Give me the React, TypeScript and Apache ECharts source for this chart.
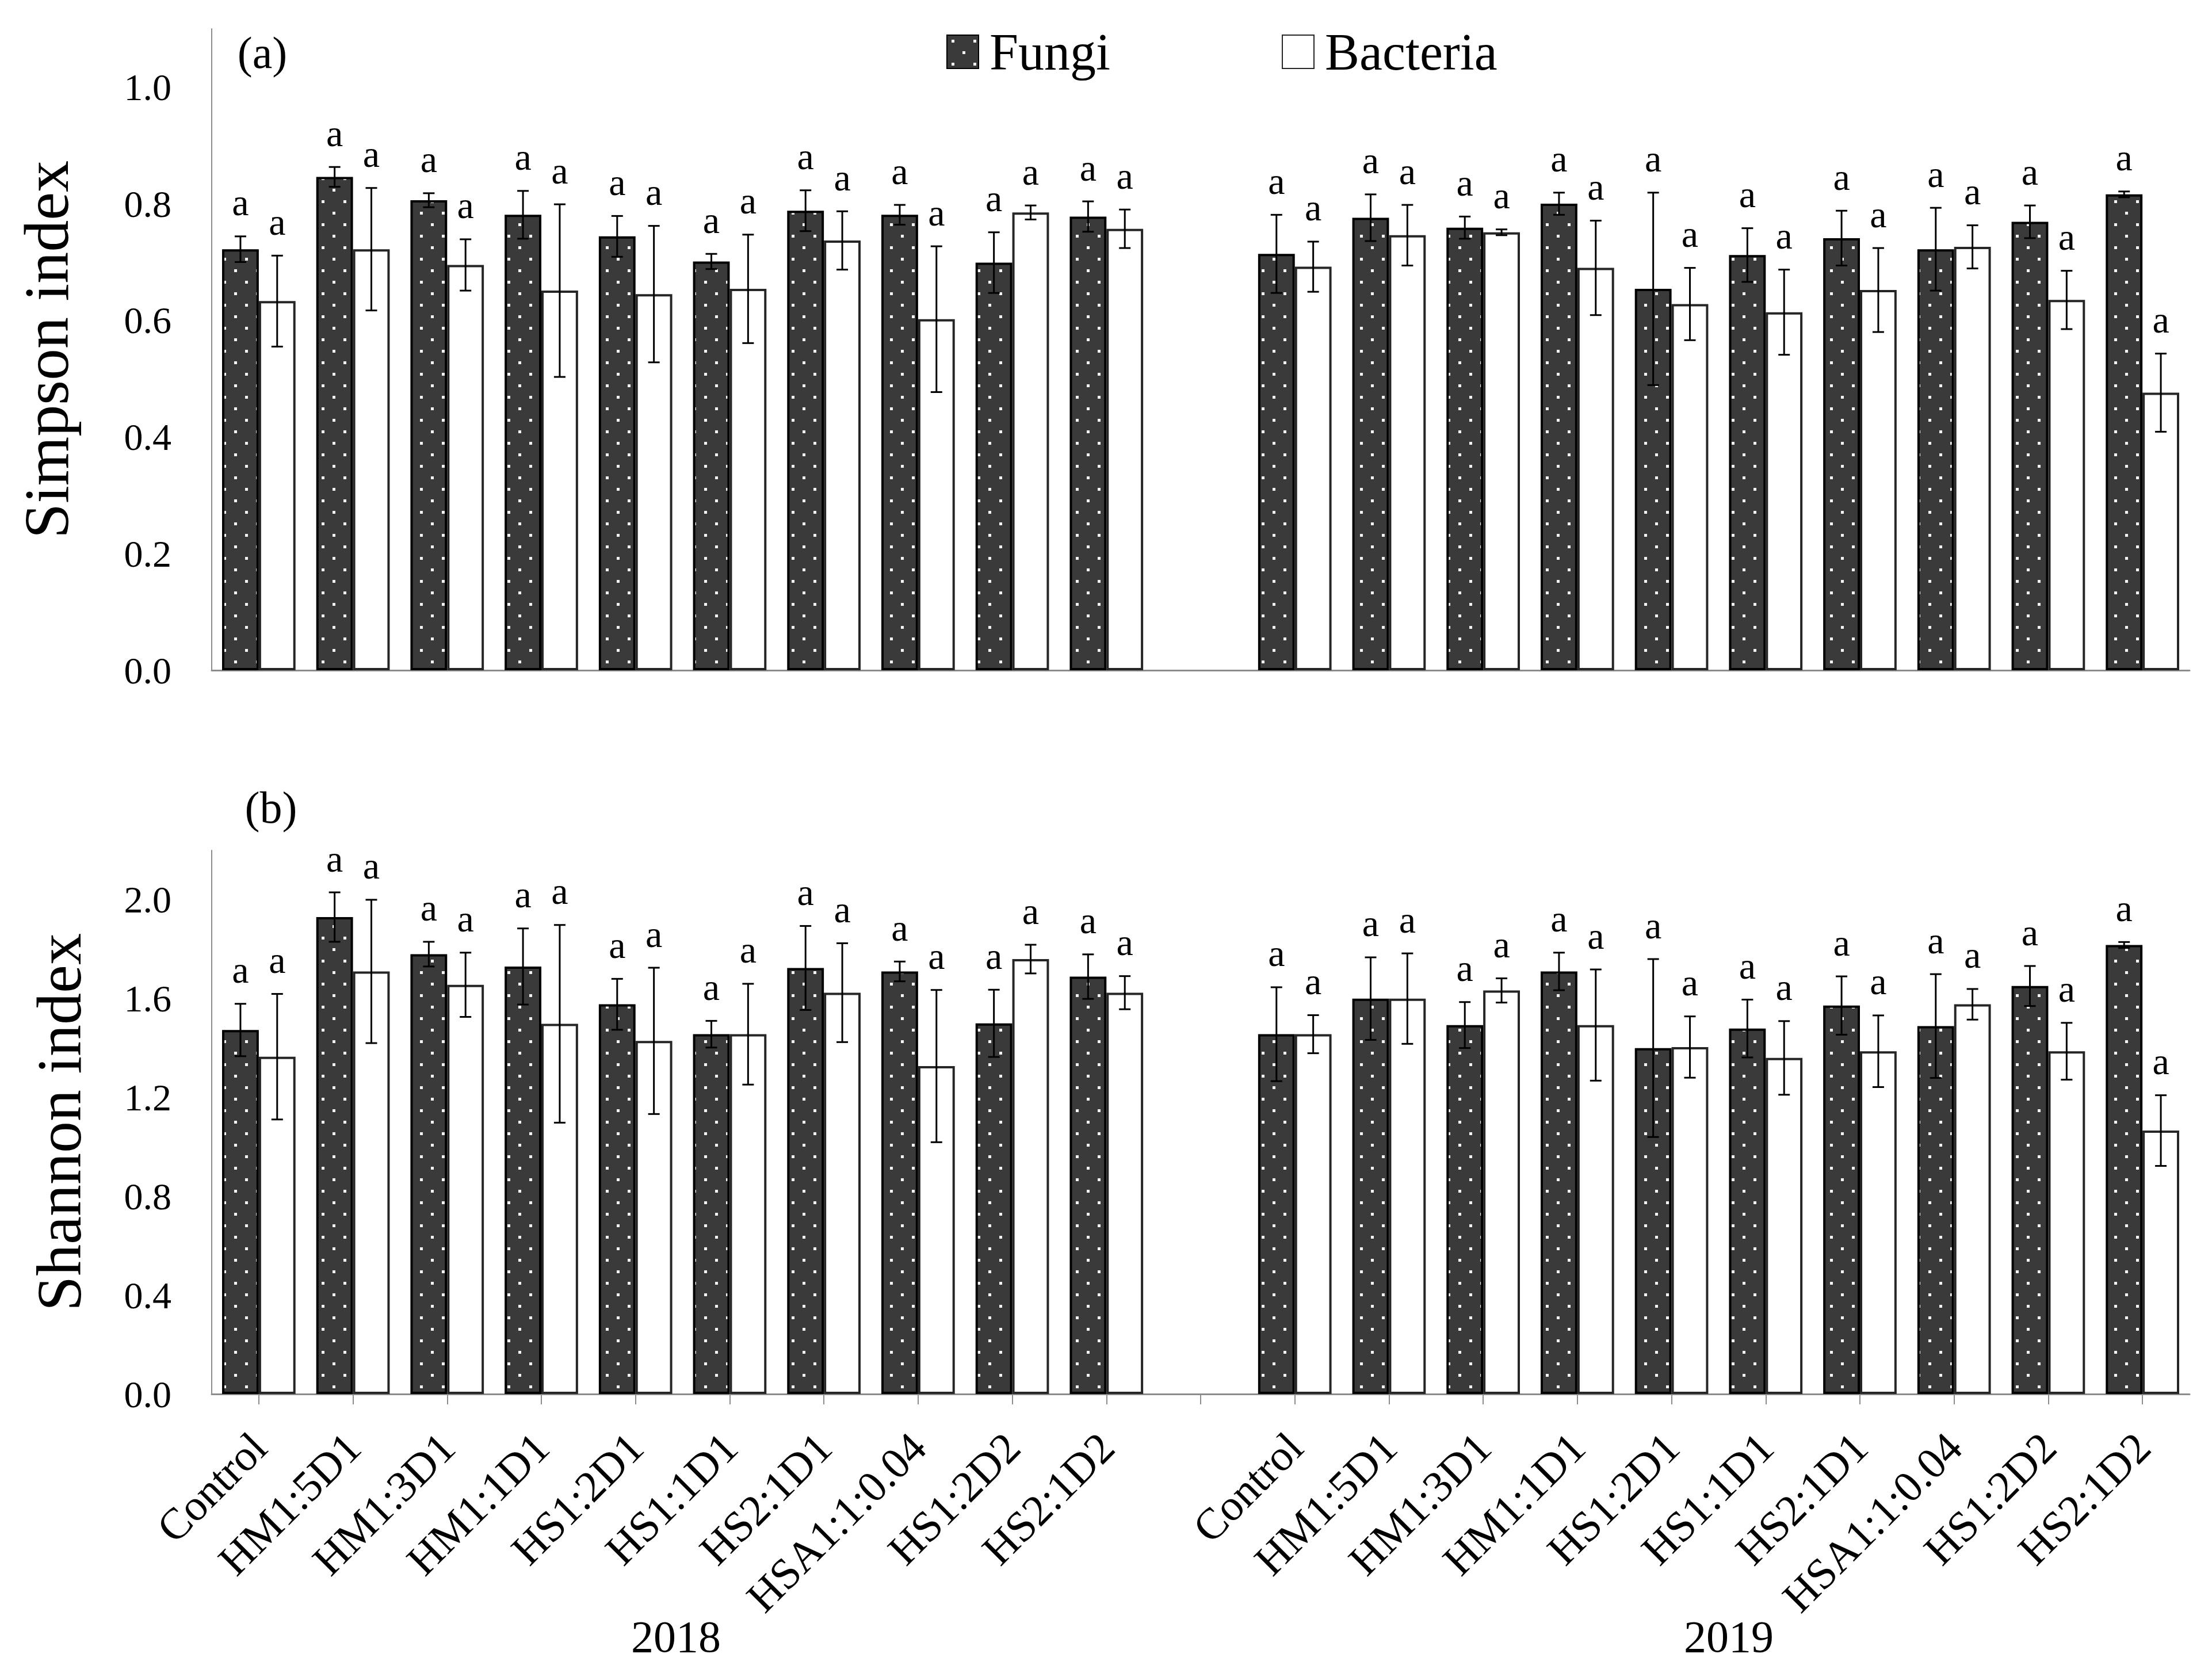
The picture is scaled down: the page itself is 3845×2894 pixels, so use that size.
import React, { useEffect, useRef } from "react";
import * as echarts from "echarts";

const FONT = '"Liberation Serif", "Times New Roman", serif';

const categories2018 = ["Control", "HM1:5D1", "HM1:3D1", "HM1:1D1", "HS1:2D1", "HS1:1D1", "HS2:1D1", "HSA1:1:0.04", "HS1:2D2", "HS2:1D2"];
const categories2019 = ["Control", "HM1:5D1", "HM1:3D1", "HM1:1D1", "HS1:2D1", "HS1:1D1", "HS2:1D1", "HSA1:1:0.04", "HS1:2D2", "HS2:1D2"];
const yearLabels = ["2018", "2019"];
const legendNames = ["Fungi", "Bacteria"];
const yTitles = ["Simpson index", "Shannon index"];
const panelLabels = ["(a)", "(b)"];

// (a) Simpson index
const simpsonFungi2018 = [0.722, 0.846, 0.806, 0.781, 0.744, 0.701, 0.788, 0.781, 0.699, 0.778];
const simpsonFungiErr2018 = [0.022, 0.017, 0.012, 0.041, 0.035, 0.013, 0.035, 0.017, 0.052, 0.026];
const simpsonBacteria2018 = [0.633, 0.722, 0.695, 0.651, 0.645, 0.654, 0.737, 0.602, 0.785, 0.757];
const simpsonBacteriaErr2018 = [0.078, 0.105, 0.044, 0.148, 0.117, 0.093, 0.05, 0.125, 0.012, 0.033];
const simpsonFungi2019 = [0.714, 0.776, 0.759, 0.8, 0.654, 0.712, 0.741, 0.722, 0.769, 0.816];
const simpsonFungiErr2019 = [0.067, 0.04, 0.019, 0.019, 0.165, 0.046, 0.047, 0.071, 0.028, 0.005];
const simpsonBacteria2019 = [0.692, 0.746, 0.751, 0.69, 0.628, 0.614, 0.652, 0.726, 0.635, 0.476];
const simpsonBacteriaErr2019 = [0.043, 0.052, 0.005, 0.081, 0.062, 0.073, 0.072, 0.037, 0.05, 0.067];

// (b) Shannon index
const shannonFungi2018 = [1.473, 1.93, 1.78, 1.73, 1.577, 1.456, 1.724, 1.71, 1.5, 1.689];
const shannonFungiErr2018 = [0.106, 0.1, 0.05, 0.154, 0.103, 0.054, 0.17, 0.04, 0.136, 0.09];
const shannonBacteria2018 = [1.365, 1.71, 1.656, 1.498, 1.429, 1.456, 1.624, 1.327, 1.76, 1.624];
const shannonBacteriaErr2018 = [0.254, 0.29, 0.13, 0.4, 0.296, 0.204, 0.2, 0.308, 0.058, 0.067];
const shannonFungi2019 = [1.456, 1.6, 1.493, 1.71, 1.4, 1.479, 1.572, 1.489, 1.651, 1.817];
const shannonFungiErr2019 = [0.19, 0.167, 0.093, 0.076, 0.36, 0.117, 0.118, 0.21, 0.081, 0.012];
const shannonBacteria2019 = [1.456, 1.6, 1.633, 1.493, 1.404, 1.36, 1.387, 1.577, 1.387, 1.066];
const shannonBacteriaErr2019 = [0.077, 0.183, 0.049, 0.225, 0.124, 0.149, 0.145, 0.062, 0.115, 0.143];

// significance letters
const simpsonFungiLetters2018 = ["a", "a", "a", "a", "a", "a", "a", "a", "a", "a"];
const simpsonBacteriaLetters2018 = ["a", "a", "a", "a", "a", "a", "a", "a", "a", "a"];
const simpsonFungiLetters2019 = ["a", "a", "a", "a", "a", "a", "a", "a", "a", "a"];
const simpsonBacteriaLetters2019 = ["a", "a", "a", "a", "a", "a", "a", "a", "a", "a"];
const shannonFungiLetters2018 = ["a", "a", "a", "a", "a", "a", "a", "a", "a", "a"];
const shannonBacteriaLetters2018 = ["a", "a", "a", "a", "a", "a", "a", "a", "a", "a"];
const shannonFungiLetters2019 = ["a", "a", "a", "a", "a", "a", "a", "a", "a", "a"];
const shannonBacteriaLetters2019 = ["a", "a", "a", "a", "a", "a", "a", "a", "a", "a"];

const join = (a: any[], b: any[]) => [...a, null, ...b];
const axisCategories = [...categories2018, "", ...categories2019];

const CAT_GAP = 0.22;

function makePattern() {
  const c = document.createElement("canvas");
  c.width = 38;
  c.height = 40;
  const ctx = c.getContext("2d")!;
  ctx.fillStyle = "#3a3a3a";
  ctx.fillRect(0, 0, 38, 40);
  ctx.fillStyle = "#f4f4f4";
  ctx.fillRect(8, 8, 5, 5);
  ctx.fillRect(27, 28, 5, 5);
  return { image: c, repeat: "repeat", imageWidth: 38, imageHeight: 40 } as any;
}

function errorSeries(name: string, values: any[], errs: any[], letters: any[], side: number, axisIdx: number) {
  const data: any[] = [];
  const lbl: string[] = [];
  values.forEach((v, i) => {
    if (v == null) return;
    data.push([i, v, errs[i]]);
    lbl.push(letters[i]);
  });
  return {
    type: "custom",
    name,
    xAxisIndex: axisIdx,
    yAxisIndex: axisIdx,
    z: 10,
    silent: true,
    encode: { x: 0, y: 1 },
    data,
    renderItem: (params: any, api: any) => {
      const idx = api.value(0);
      const val = api.value(1);
      const err = api.value(2);
      const center = api.coord([idx, val]);
      const band = api.size([1, 0])[0];
      const barW = (band * (1 - CAT_GAP)) / 2;
      const x = center[0] + (side * barW) / 2;
      const top = api.coord([idx, val + err])[1];
      const bot = api.coord([idx, val - err])[1];
      const cap = 10;
      const ls = { stroke: "#000", lineWidth: 3 };
      return {
        type: "group",
        children: [
          { type: "line", shape: { x1: x, y1: top, x2: x, y2: bot }, style: ls },
          { type: "line", shape: { x1: x - cap, y1: top, x2: x + cap, y2: top }, style: ls },
          { type: "line", shape: { x1: x - cap, y1: bot, x2: x + cap, y2: bot }, style: ls },
          {
            type: "text",
            style: {
              text: lbl[params.dataIndex],
              x,
              y: top - 26,
              align: "center",
              verticalAlign: "bottom",
              fontSize: 66,
              fontFamily: FONT,
              fill: "#000",
            },
          },
        ],
      };
    },
  };
}

export default function App() {
  const ref = useRef<HTMLDivElement>(null);
  useEffect(() => {
    document.body.style.margin = "0";
    if (!ref.current) return;
    const chart = echarts.init(ref.current, undefined, { renderer: "svg" });
    const pattern = makePattern();
    const fungiStyle = { color: pattern, borderColor: "#000", borderWidth: 4 };
    const bacteriaStyle = { color: "#ffffff", borderColor: "#262626", borderWidth: 4 };
    const axisGray = "#8c8c8c";

    const yAxisBase = (gridIndex: number, max: number, interval: number, name: string, nameGap: number) => ({
      type: "value",
      gridIndex,
      min: 0,
      max,
      interval,
      name,
      nameLocation: "middle",
      nameGap,
      nameTextStyle: { fontSize: 110, fontFamily: FONT, color: "#000" },
      axisLine: { show: true, lineStyle: { color: axisGray, width: 2 } },
      axisTick: { show: false },
      splitLine: { show: false },
      axisLabel: {
        formatter: (v: number) => v.toFixed(1),
        fontSize: 66,
        fontFamily: FONT,
        color: "#000",
        margin: 70,
        showMaxLabel: false,
      },
    });

    const legendBase = (name: string, left: number) => ({
      data: [name],
      left,
      top: 40,
      icon: "rect",
      itemWidth: 55,
      itemHeight: 58,
      textStyle: { fontSize: 90, fontFamily: FONT, color: "#000", padding: [0, 0, 0, 14] },
    });

    const option: any = {
      animation: false,
      backgroundColor: "#ffffff",
      legend: [legendBase(legendNames[0], 1640), legendBase(legendNames[1], 2223)],
      grid: [
        { left: 368, right: 39, top: 50, height: 1115 },
        { left: 368, right: 39, top: 1478, height: 945 },
      ],
      xAxis: [
        {
          type: "category",
          gridIndex: 0,
          data: axisCategories,
          axisLine: { lineStyle: { color: axisGray, width: 3 } },
          axisTick: { show: false },
          axisLabel: { show: false },
        },
        {
          type: "category",
          gridIndex: 1,
          data: axisCategories,
          axisLine: { lineStyle: { color: axisGray, width: 3 } },
          axisTick: { show: true, alignWithLabel: true, interval: 0, length: 18, lineStyle: { color: axisGray, width: 2 } },
          axisLabel: { interval: 0, rotate: 45, fontSize: 76, fontFamily: FONT, color: "#000", margin: 80 },
        },
      ],
      yAxis: [
        yAxisBase(0, 1.1, 0.2, yTitles[0], 232),
        yAxisBase(1, 2.2, 0.4, yTitles[1], 210),
      ],
      graphic: [
        { type: "text", x: 456, y: 91, style: { text: panelLabels[0], fontSize: 78, fontFamily: FONT, fill: "#000", align: "center", verticalAlign: "middle" } },
        { type: "text", x: 471, y: 1403, style: { text: panelLabels[1], fontSize: 78, fontFamily: FONT, fill: "#000", align: "center", verticalAlign: "middle" } },
        { type: "text", x: 1175, y: 2844, style: { text: yearLabels[0], fontSize: 78, fontFamily: FONT, fill: "#000", align: "center", verticalAlign: "middle" } },
        { type: "text", x: 3005, y: 2844, style: { text: yearLabels[1], fontSize: 78, fontFamily: FONT, fill: "#000", align: "center", verticalAlign: "middle" } },
      ],
      series: [
        {
          type: "bar",
          name: legendNames[0],
          xAxisIndex: 0,
          yAxisIndex: 0,
          data: join(simpsonFungi2018, simpsonFungi2019),
          itemStyle: fungiStyle,
          barGap: "0%",
          barCategoryGap: "22%",
        },
        {
          type: "bar",
          name: legendNames[1],
          xAxisIndex: 0,
          yAxisIndex: 0,
          data: join(simpsonBacteria2018, simpsonBacteria2019),
          itemStyle: bacteriaStyle,
          barGap: "0%",
          barCategoryGap: "22%",
        },
        {
          type: "bar",
          name: legendNames[0],
          xAxisIndex: 1,
          yAxisIndex: 1,
          data: join(shannonFungi2018, shannonFungi2019),
          itemStyle: fungiStyle,
          barGap: "0%",
          barCategoryGap: "22%",
        },
        {
          type: "bar",
          name: legendNames[1],
          xAxisIndex: 1,
          yAxisIndex: 1,
          data: join(shannonBacteria2018, shannonBacteria2019),
          itemStyle: bacteriaStyle,
          barGap: "0%",
          barCategoryGap: "22%",
        },
        errorSeries("errSF", join(simpsonFungi2018, simpsonFungi2019), join(simpsonFungiErr2018, simpsonFungiErr2019), join(simpsonFungiLetters2018, simpsonFungiLetters2019), -1, 0),
        errorSeries("errSB", join(simpsonBacteria2018, simpsonBacteria2019), join(simpsonBacteriaErr2018, simpsonBacteriaErr2019), join(simpsonBacteriaLetters2018, simpsonBacteriaLetters2019), 1, 0),
        errorSeries("errHF", join(shannonFungi2018, shannonFungi2019), join(shannonFungiErr2018, shannonFungiErr2019), join(shannonFungiLetters2018, shannonFungiLetters2019), -1, 1),
        errorSeries("errHB", join(shannonBacteria2018, shannonBacteria2019), join(shannonBacteriaErr2018, shannonBacteriaErr2019), join(shannonBacteriaLetters2018, shannonBacteriaLetters2019), 1, 1),
      ],
    };
    chart.setOption(option);
    return () => chart.dispose();
  }, []);
  return <div ref={ref} style={{ width: 3845, height: 2894 }} />;
}
